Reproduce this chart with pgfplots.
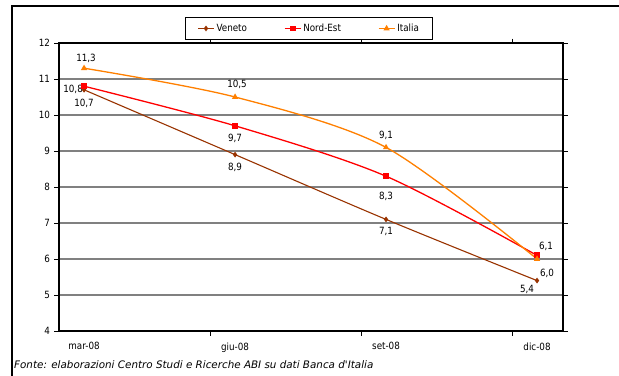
\documentclass[border=0pt]{standalone}
\usepackage{fontspec}
\setmainfont{DejaVu Sans}[FakeStretch=0.88]
\newfontfamily\fontefont{DejaVu Sans}
\usepackage{pgfplots}
\pgfplotsset{compat=1.18}
\definecolor{veneto}{HTML}{993300}
\definecolor{nordest}{HTML}{FF0000}
\definecolor{italia}{HTML}{FF8000}
\definecolor{gridgray}{HTML}{808080}
\newcommand{\lf}{\fontsize{10}{12}\selectfont}
\begin{document}
\begin{tikzpicture}
\useasboundingbox (0,0) rectangle (619bp,-376bp);
\fill[white] (0,0) rectangle (619bp,-376bp);
\draw[line width=1.2bp] (12bp,-376bp) -- (12bp,-6bp) -- (619bp,-6bp);
\begin{axis}[
  at={(59bp,-331bp)}, anchor=south west,
  width=504bp, height=288bp, scale only axis,
  xmin=-0.166, xmax=3.172, ymin=4, ymax=12,
  ytick={4,5,...,12},
  xtick={0.834,1.834,2.834}, xticklabels={},
  extra x ticks={0,1,2,3},
  extra x tick labels={mar-08,giu-08,set-08,dic-08},
  extra x tick style={major tick length=0pt, grid=none, xticklabel style={yshift=-8bp}},
  tick align=outside,
  major tick length=4.5bp,
  tick style={black, line width=0.8bp},
  ymajorgrids,
  major grid style={gridgray, line width=1.3bp},
  axis line style={black, line width=1.3bp},
  tick label style={font=\lf},
  yticklabel style={xshift=-1bp},
  /pgf/number format/assume math mode=true,
  legend columns=3,
  legend style={at={(axis description cs:0.25,1.0903)}, anchor=north west,
    draw=black, line width=0.9bp, font=\lf, inner xsep=12bp, inner ysep=5bp,
    nodes={inner xsep=2bp, inner ysep=1.5bp},
    /tikz/every even column/.append style={column sep=35bp}},
  legend image code/.code={\draw[mark repeat=2,mark phase=2,#1] plot coordinates {(0bp,0bp) (8bp,0bp) (16bp,0bp)};},
]
\addplot[veneto, line width=1.1bp, smooth, mark=diamond*, mark size=2bp, mark options={solid}]
  coordinates {(0,10.7) (1,8.9) (2,7.1) (3,5.4)};
\addlegendentry{Veneto}
\addplot[nordest, line width=1.3bp, smooth, mark=square*, mark size=2.3bp]
  coordinates {(0,10.8) (1,9.7) (2,8.3) (3,6.1)};
\addlegendentry{Nord-Est}
\addplot[italia, line width=1.3bp, smooth, mark=triangle*, mark size=2.3bp]
  coordinates {(0,11.3) (1,10.5) (2,9.1) (3,6.0)};
\addlegendentry{Italia}
% data labels
\begin{scope}[every node/.style={font=\lf, text=black, inner sep=0pt}]
\node[xshift=2bp, yshift=10bp] at (axis cs:0,11.3) {11,3};
\node[anchor=east, xshift=-1bp, yshift=-3bp] at (axis cs:0,10.8) {10,8};
\node[yshift=-14bp] at (axis cs:0,10.7) {10,7};
\node[xshift=2bp, yshift=13bp] at (axis cs:1,10.5) {10,5};
\node[yshift=-13bp] at (axis cs:1,9.7) {9,7};
\node[yshift=-13bp] at (axis cs:1,8.9) {8,9};
\node[yshift=12bp] at (axis cs:2,9.1) {9,1};
\node[yshift=-20bp] at (axis cs:2,8.3) {8,3};
\node[yshift=-12bp] at (axis cs:2,7.1) {7,1};
\node[xshift=9bp, yshift=9bp] at (axis cs:3,6.1) {6,1};
\node[xshift=10bp, yshift=-14bp] at (axis cs:3,6.0) {6,0};
\node[xshift=-10bp, yshift=-9bp] at (axis cs:3,5.4) {5,4};
\end{scope}
\end{axis}
\node[anchor=west, inner sep=0pt, font=\fontefont\fontsize{10.4}{12}\selectfont\itshape] at (14bp,-365bp) {Fonte: elaborazioni Centro Studi e Ricerche ABI su dati Banca d'Italia};
\end{tikzpicture}
\end{document}
